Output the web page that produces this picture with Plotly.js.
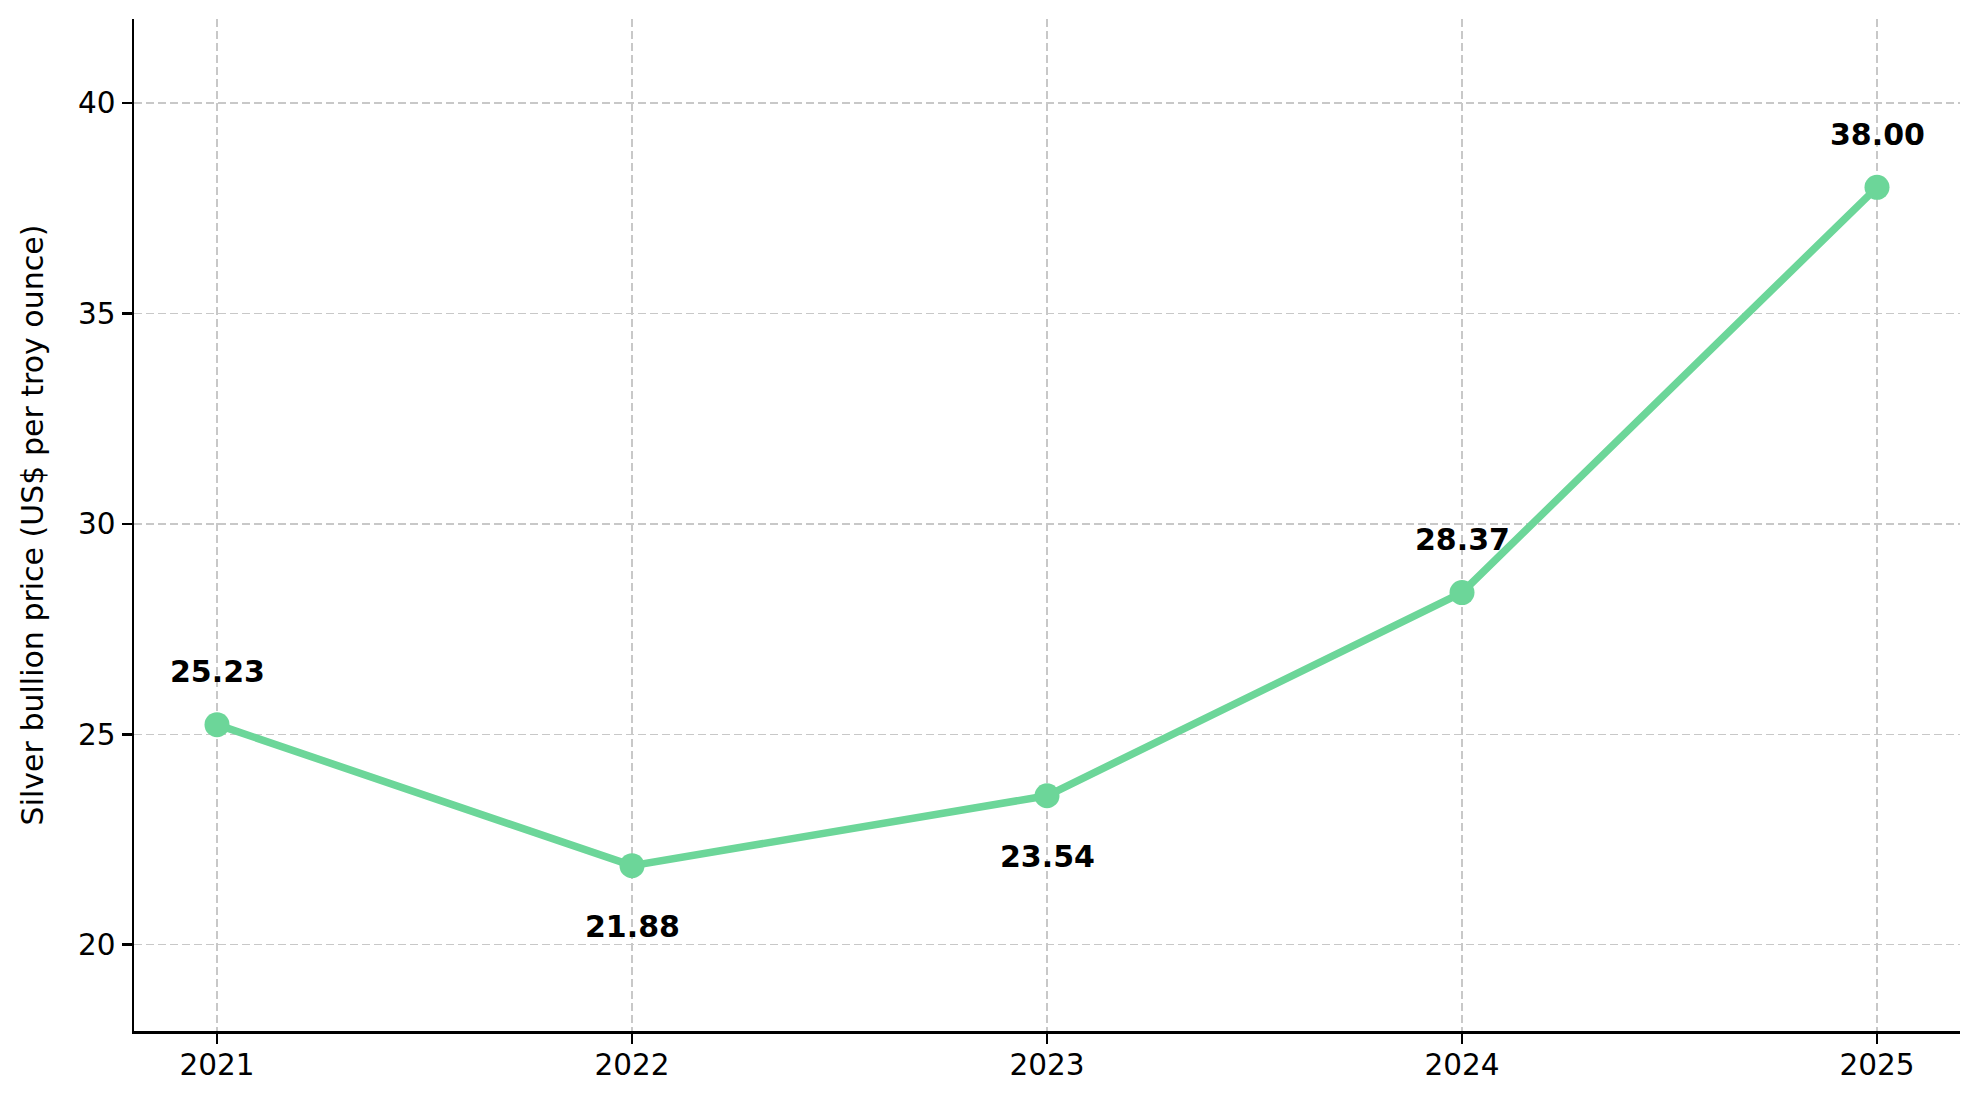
<!DOCTYPE html>
<html>
<head>
<meta charset="utf-8">
<script src="https://cdn.plot.ly/plotly-3.0.1.min.js"></script>
<style>
  html, body { margin: 0; padding: 0; background: #fff; }
  #chart { width: 1978px; height: 1097px; }
</style>
</head>
<body>
<div id="chart"></div>
<script>
// silver bullion price, yearly
const years = [2021, 2022, 2023, 2024, 2025];
const prices = [25.23, 21.88, 23.54, 28.37, 38.00];
const labelSide = ['above', 'below', 'below', 'above', 'above'];

const lineColor = '#6cd699';

const trace = {
  x: years,
  y: prices,
  type: 'scatter',
  mode: 'lines+markers',
  line: { color: lineColor, width: 7.5 },
  marker: { color: lineColor, size: 25 },
  hoverinfo: 'skip'
};

const annotations = years.map((yr, i) => ({
  x: yr,
  y: prices[i],
  xref: 'x',
  yref: 'y',
  text: '<b>' + prices[i].toFixed(2) + '</b>',
  showarrow: false,
  yshift: labelSide[i] === 'above' ? 53 : -61,
  font: { family: 'DejaVu Sans', size: 30, color: '#000' }
}));

const gridStyle = {
  showgrid: true,
  gridcolor: '#c8c8c8',
  gridwidth: 1.5,
  griddash: '8px,4px',
  zeroline: false,
  showline: true,
  linecolor: '#000',
  linewidth: 2.5,
  ticks: 'outside',
  ticklen: 10,
  tickwidth: 2.5,
  tickcolor: '#000',
  tickfont: { family: 'DejaVu Sans', size: 29.5, color: '#000' }
};

const layout = {
  width: 1978,
  height: 1097,
  paper_bgcolor: '#fff',
  plot_bgcolor: '#fff',
  showlegend: false,
  margin: { l: 134, r: 18, t: 19, b: 66 },
  xaxis: Object.assign({}, gridStyle, {
    range: [2020.8, 2025.2],
    tickvals: years,
    ticktext: years.map(String),
    ticklabelstandoff: -4
  }),
  yaxis: Object.assign({}, gridStyle, {
    range: [17.95, 42.0],
    tickvals: [20, 25, 30, 35, 40],
    title: {
      text: 'Silver bullion price (US$ per troy ounce)',
      font: { family: 'DejaVu Sans', size: 30, color: '#000' },
      standoff: 26
    }
  }),
  annotations: annotations
};

Plotly.newPlot('chart', [trace], layout, { displayModeBar: false, staticPlot: true });
</script>
</body>
</html>
